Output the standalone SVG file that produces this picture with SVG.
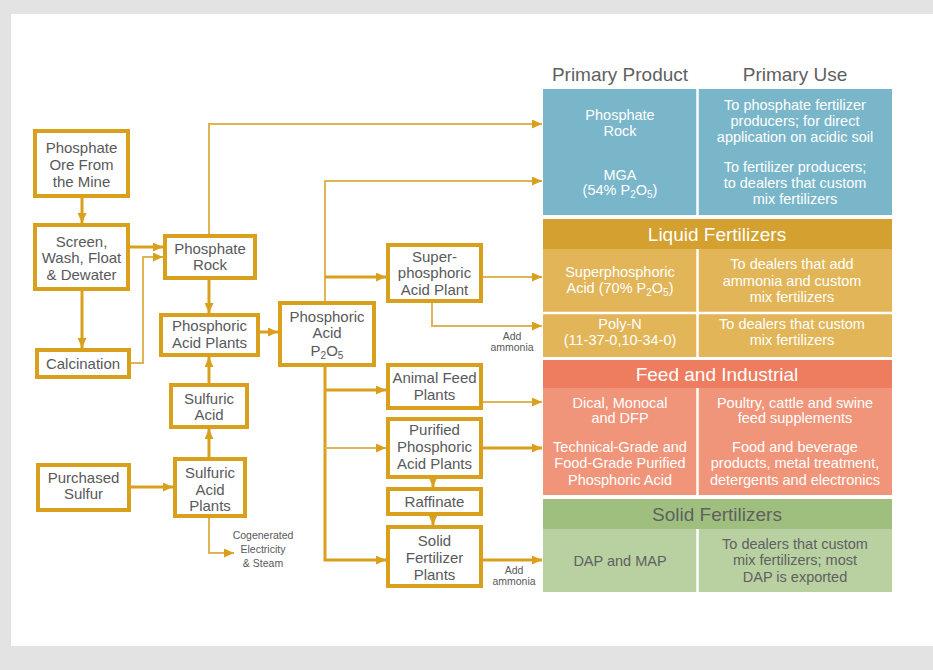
<svg xmlns="http://www.w3.org/2000/svg" width="933" height="670" viewBox="0 0 933 670">
  <style>
    .box { fill: #ffffff; stroke: #d9a01e; stroke-width: 4; }
    .nt { font-family: "Liberation Sans", Arial, sans-serif; font-size: 15px; fill: #58595b; text-anchor: middle; }
    .sm { font-family: "Liberation Sans", Arial, sans-serif; font-size: 10.5px; fill: #58595b; text-anchor: middle; }
    .hd { font-family: "Liberation Sans", Arial, sans-serif; font-size: 19px; fill: #5f6062; text-anchor: middle; }
    .tt { font-family: "Liberation Sans", Arial, sans-serif; font-size: 19px; fill: #ffffff; text-anchor: middle; }
    .tx { font-family: "Liberation Sans", Arial, sans-serif; font-size: 14.5px; fill: #ffffff; text-anchor: middle; }
    .gx { fill: #5f6062; }
    .sub { font-size: 10px; }
    .thick { fill: none; stroke: #d9a01e; stroke-width: 3; marker-end: url(#ah); }
    .thin { fill: none; stroke: #e2b354; stroke-width: 2; marker-end: url(#ah); }
    .sep { stroke: #ffffff; stroke-width: 2.5; }
  </style>
  <defs>
    <marker id="ah" markerUnits="userSpaceOnUse" markerWidth="10" markerHeight="9" refX="10" refY="4.5" orient="auto">
      <path d="M0,0 L10,4.5 L0,9 z" fill="#d9a01e"/>
    </marker>
  </defs>

  <!-- page -->
  <rect x="0" y="0" width="933" height="670" fill="#e3e3e3"/>
  <rect x="11" y="14" width="922" height="632" fill="#ffffff"/>

  <!-- connectors -->
  <g id="connectors">
    <path class="thick" d="M82,198 V223"/>
    <path class="thick" d="M82,291 V348"/>
    <path class="thick" d="M130,247 H163"/>
    <path class="thin" d="M131,363 H143 V257 H163"/>
    <path class="thick" d="M209,280 V313"/>
    <path class="thin" d="M209,234 V124 H542"/>
    <path class="thick" d="M209,383 V357"/>
    <path class="thick" d="M209,457 V429"/>
    <path class="thick" d="M131,487 H173"/>
    <path class="thin" d="M209,518 V553 H234"/>
    <path class="thick" d="M260,332 H278"/>
    <path class="thin" d="M325,301 V181 H542"/>
    <path class="thick" d="M325,277 H386"/>
    <path class="thick" d="M325,367 V560 H386"/>
    <path class="thick" d="M325,390 H386"/>
    <path class="thin" d="M325,448 H386"/>
    <path class="thin" d="M483,277 H542"/>
    <path class="thin" d="M432,303 V326 H542"/>
    <path class="thin" d="M483,402 H542"/>
    <path class="thick" d="M483,448 H542"/>
    <path class="thick" d="M433,479 V487"/>
    <path class="thick" d="M433,516 V525"/>
    <path class="thick" d="M483,560 H542"/>
    <text class="sm" x="512" y="340">Add</text>
    <text class="sm" x="512" y="351">ammonia</text>
    <text class="sm" x="514" y="574">Add</text>
    <text class="sm" x="514" y="585">ammonia</text>
    <text class="sm" x="263" y="539">Cogenerated</text>
    <text class="sm" x="263" y="553">Electricity</text>
    <text class="sm" x="263" y="567">&amp; Steam</text>
  </g>

  <!-- process nodes -->
  <g id="ore">
    <rect class="box" x="35" y="131" width="93" height="65"/>
    <text class="nt" x="81.5" y="153">Phosphate</text>
    <text class="nt" x="81.5" y="170">Ore From</text>
    <text class="nt" x="81.5" y="187">the Mine</text>
  </g>
  <g id="screen">
    <rect class="box" x="35" y="225" width="93" height="64"/>
    <text class="nt" x="81.5" y="247">Screen,</text>
    <text class="nt" x="81.5" y="263">Wash, Float</text>
    <text class="nt" x="81.5" y="280">&amp; Dewater</text>
  </g>
  <g id="calcination">
    <rect class="box" x="37" y="350" width="92" height="27"/>
    <text class="nt" x="83" y="369">Calcination</text>
  </g>
  <g id="phosphate-rock">
    <rect class="box" x="165" y="236" width="90" height="42"/>
    <text class="nt" x="210" y="254">Phosphate</text>
    <text class="nt" x="210" y="270">Rock</text>
  </g>
  <g id="phosphoric-acid-plants">
    <rect class="box" x="161" y="315" width="97" height="40"/>
    <text class="nt" x="209.5" y="331">Phosphoric</text>
    <text class="nt" x="209.5" y="348">Acid Plants</text>
  </g>
  <g id="sulfuric-acid">
    <rect class="box" x="171" y="385" width="76" height="42"/>
    <text class="nt" x="209" y="404">Sulfuric</text>
    <text class="nt" x="209" y="420">Acid</text>
  </g>
  <g id="sulfuric-acid-plants">
    <rect class="box" x="175" y="459" width="70" height="57"/>
    <text class="nt" x="210" y="478">Sulfuric</text>
    <text class="nt" x="210" y="495">Acid</text>
    <text class="nt" x="210" y="511">Plants</text>
  </g>
  <g id="purchased-sulfur">
    <rect class="box" x="38" y="465" width="91" height="45"/>
    <text class="nt" x="83.5" y="483">Purchased</text>
    <text class="nt" x="83.5" y="499">Sulfur</text>
  </g>
  <g id="phosphoric-acid">
    <rect class="box" x="280" y="303" width="94" height="62"/>
    <text class="nt" x="327" y="322">Phosphoric</text>
    <text class="nt" x="327" y="338">Acid</text>
    <text class="nt" x="327" y="356">P<tspan class="sub" dy="2.5">2</tspan><tspan dy="-2.5">O</tspan><tspan class="sub" dy="2.5">5</tspan></text>
  </g>
  <g id="superphosphoric-plant">
    <rect class="box" x="388" y="245" width="93" height="56"/>
    <text class="nt" x="434.5" y="262">Super-</text>
    <text class="nt" x="434.5" y="278">phosphoric</text>
    <text class="nt" x="434.5" y="295">Acid Plant</text>
  </g>
  <g id="animal-feed">
    <rect class="box" x="388" y="365" width="93" height="43"/>
    <text class="nt" x="434.5" y="383">Animal Feed</text>
    <text class="nt" x="434.5" y="400">Plants</text>
  </g>
  <g id="purified-acid">
    <rect class="box" x="388" y="419" width="93" height="58"/>
    <text class="nt" x="434.5" y="435">Purified</text>
    <text class="nt" x="434.5" y="452">Phosphoric</text>
    <text class="nt" x="434.5" y="469">Acid Plants</text>
  </g>
  <g id="raffinate">
    <rect class="box" x="388" y="489" width="93" height="25"/>
    <text class="nt" x="434.5" y="507">Raffinate</text>
  </g>
  <g id="solid-fertilizer">
    <rect class="box" x="388" y="527" width="93" height="59"/>
    <text class="nt" x="434.5" y="546">Solid</text>
    <text class="nt" x="434.5" y="563">Fertilizer</text>
    <text class="nt" x="434.5" y="580">Plants</text>
  </g>

  <!-- product / use table -->
  <g id="table-headers">
    <text class="hd" x="620" y="81">Primary Product</text>
    <text class="hd" x="795" y="81">Primary Use</text>
  </g>

  <g id="primary-products">
    <rect x="543" y="89" width="349" height="126" fill="#7ab6ca"/>
    <line class="sep" x1="697.5" y1="89" x2="697.5" y2="215"/>
    <text class="tx" x="620" y="120">Phosphate</text>
    <text class="tx" x="620" y="136">Rock</text>
    <text class="tx" x="620" y="180">MGA</text>
    <text class="tx" x="620" y="195">(54% P<tspan class="sub" dy="3">2</tspan><tspan dy="-3">O</tspan><tspan class="sub" dy="3">5</tspan><tspan dy="-3">)</tspan></text>
    <text class="tx" x="795" y="110">To phosphate fertilizer</text>
    <text class="tx" x="795" y="126">producers; for direct</text>
    <text class="tx" x="795" y="142">application on acidic soil</text>
    <text class="tx" x="795" y="172">To fertilizer producers;</text>
    <text class="tx" x="795" y="188">to dealers that custom</text>
    <text class="tx" x="795" y="204">mix fertilizers</text>
  </g>

  <g id="liquid-fertilizers">
    <rect x="543" y="219" width="349" height="30" fill="#d4a02f"/>
    <rect x="543" y="249" width="349" height="108" fill="#e2b558"/>
    <line class="sep" x1="697.5" y1="249" x2="697.5" y2="357"/>
    <line class="sep" x1="543" y1="313" x2="892" y2="313"/>
    <text class="tt" x="717" y="241">Liquid Fertilizers</text>
    <text class="tx" x="620" y="277">Superphosphoric</text>
    <text class="tx" x="620" y="293">Acid (70% P<tspan class="sub" dy="3">2</tspan><tspan dy="-3">O</tspan><tspan class="sub" dy="3">5</tspan><tspan dy="-3">)</tspan></text>
    <text class="tx" x="792" y="269">To dealers that add</text>
    <text class="tx" x="792" y="286">ammonia and custom</text>
    <text class="tx" x="792" y="302">mix fertilizers</text>
    <text class="tx" x="620" y="329">Poly-N</text>
    <text class="tx" x="620" y="345">(11-37-0,10-34-0)</text>
    <text class="tx" x="792" y="329">To dealers that custom</text>
    <text class="tx" x="792" y="345">mix fertilizers</text>
  </g>

  <g id="feed-industrial">
    <rect x="543" y="360" width="349" height="28" fill="#ee7c5f"/>
    <rect x="543" y="388" width="349" height="107" fill="#f0957a"/>
    <line class="sep" x1="697.5" y1="388" x2="697.5" y2="495"/>
    <text class="tt" x="717" y="381">Feed and Industrial</text>
    <text class="tx" x="620" y="408">Dical, Monocal</text>
    <text class="tx" x="620" y="423">and DFP</text>
    <text class="tx" x="795" y="408">Poultry, cattle and swine</text>
    <text class="tx" x="795" y="423">feed supplements</text>
    <text class="tx" x="620" y="452">Technical-Grade and</text>
    <text class="tx" x="620" y="468">Food-Grade Purified</text>
    <text class="tx" x="620" y="485">Phosphoric Acid</text>
    <text class="tx" x="795" y="452">Food and beverage</text>
    <text class="tx" x="795" y="468">products, metal treatment,</text>
    <text class="tx" x="795" y="485">detergents and electronics</text>
  </g>

  <g id="solid-fertilizers">
    <rect x="543" y="499" width="349" height="30" fill="#9fbf7e"/>
    <rect x="543" y="529" width="349" height="63" fill="#b9d1a1"/>
    <line class="sep" x1="697.5" y1="529" x2="697.5" y2="592"/>
    <text class="tt gx" x="717" y="521">Solid Fertilizers</text>
    <text class="tx gx" x="620" y="566">DAP and MAP</text>
    <text class="tx gx" x="795" y="549">To dealers that custom</text>
    <text class="tx gx" x="795" y="565">mix fertilizers; most</text>
    <text class="tx gx" x="795" y="582">DAP is exported</text>
  </g>
</svg>
